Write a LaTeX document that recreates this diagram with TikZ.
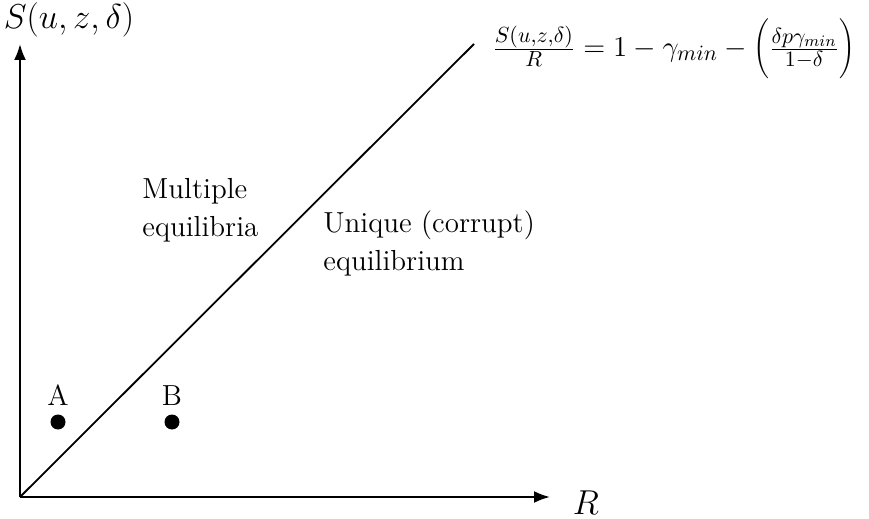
\documentclass[tikz,border=0pt]{standalone}
\usetikzlibrary{arrows.meta}
\begin{document}
\begin{tikzpicture}[x=0.5pt,y=-0.5pt,
  axis/.style={line width=1.1pt,-{Latex[length=8pt,width=6pt]}},
  lbl/.style={font=\fontsize{14.5}{19}\selectfont,inner sep=0pt},
  mathlbl/.style={font=\fontsize{16}{20}\selectfont,inner sep=0pt},
  mlbl/.style={font=\fontsize{14.5}{19}\selectfont,inner sep=0pt,align=left},
  dot/.style={circle,fill=black,minimum size=7.5pt,inner sep=0pt}]
\useasboundingbox (0,0) rectangle (869,519);
\coordinate (O) at (20,497);
\coordinate (Ytop) at (20,44);
\coordinate (Xend) at (550,497);
\coordinate (Ltop) at (474,44);
\draw[axis] (O) -- (Ytop);
\draw[axis] (O) -- (Xend);
\draw[line width=0.9pt] (O) -- (Ltop);
\node[mathlbl] (ylab) at (69,20) {$S(u,z,\delta)$};
\node[mathlbl] (xlab) at (586,503) {$R$};
\node[anchor=west,inner sep=0pt,font=\fontsize{15.2}{18}\selectfont] (eq) at (492,49) {$\frac{S(u,z,\delta)}{R}=1-\gamma_{min}-\left(\vrule height 17pt depth 10pt width 0pt\frac{\delta p\gamma_{min}}{1-\delta}\right)$};
\node[mlbl,anchor=north west] (mult) at (142,178) {Multiple\\equilibria};
\node[mlbl,anchor=north west] (uniq) at (323,210) {Unique (corrupt)\\equilibrium};
\node[dot] (A) at (58,422) {};
\node[dot] (B) at (172,422) {};
\node[lbl,anchor=south] (Al) at (A.north) [yshift=4pt] {A};
\node[lbl,anchor=south] (Bl) at (B.north) [yshift=4pt] {B};
\end{tikzpicture}
\end{document}
